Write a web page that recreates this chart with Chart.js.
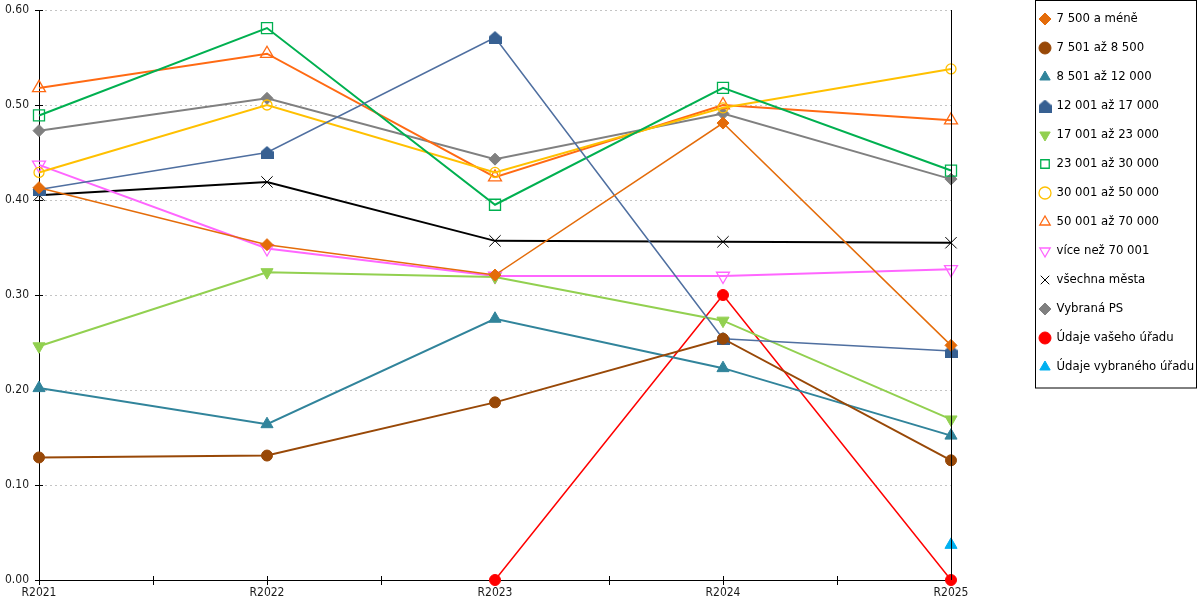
<!DOCTYPE html>
<html lang="cs">
<head>
    <meta charset="UTF-8">
    <title>Vývoj ukazatele podle velikosti obce</title>
    <script src="https://cdn.jsdelivr.net/npm/chart.js"></script>
    <style>
        html, body { margin: 0; padding: 0; background: #fff; }
    </style>
</head>
<body>

<canvas id="chart" width="1200" height="600"></canvas>

<script>
    // categories + y ticks
    const years = ["R2021", "R2022", "R2023", "R2024", "R2025"];
    const yMin = 0, yMax = 0.6, yStep = 0.1;

    // series values
    const v7500     = [0.413, 0.353, 0.321, 0.481, 0.247];
    const v8500     = [0.129, 0.131, 0.187, 0.254, 0.126];
    const v12000    = [0.202, 0.164, 0.275, 0.223, 0.152];
    const v17000    = [0.411, 0.450, 0.571, 0.254, 0.241];
    const v23000    = [0.246, 0.324, 0.319, 0.273, 0.169];
    const v30000    = [0.489, 0.581, 0.395, 0.518, 0.431];
    const v50000    = [0.429, 0.500, 0.429, 0.497, 0.538];
    const v70000    = [0.518, 0.554, 0.424, 0.500, 0.484];
    const vOver     = [0.437, 0.349, 0.320, 0.320, 0.327];
    const vAll      = [0.405, 0.419, 0.357, 0.356, 0.355];
    const vPS       = [0.473, 0.507, 0.443, 0.491, 0.422];
    const vOffice   = [null, null, 0, 0.300, 0];
    const vSelected = [null, null, null, null, 0.037];

    const FONT_SIZE = 12;
    const LEG_FONT = 13;
    Chart.defaults.font.family = "'DejaVu Sans Condensed', 'DejaVu Sans', sans-serif";
    Chart.defaults.font.size = FONT_SIZE;
    Chart.defaults.color = "#1a1a1a";

    // "house" marker for 12 001 až 17 000
    function houseMarker(color, size) {
        const c = document.createElement("canvas");
        c.width = size;
        c.height = size;
        const g = c.getContext("2d");
        g.fillStyle = color;
        g.beginPath();
        g.moveTo(size / 2, 0);
        g.lineTo(size, size * 0.45);
        g.lineTo(size, size);
        g.lineTo(0, size);
        g.lineTo(0, size * 0.45);
        g.closePath();
        g.fill();
        return c;
    }

    function series(label, data, color, opts) {
        return Object.assign({
            label: label,
            data: data,
            borderColor: color,
            backgroundColor: color,
            pointBackgroundColor: color,
            pointBorderColor: color,
            pointBorderWidth: 1,
            borderWidth: 2,
            pointRadius: 5,
            pointHoverRadius: 5,
            tension: 0,
            clip: false
        }, opts || {});
    }

    const hollow = "rgba(255,255,255,0)";
    const LEG_PAD = 16;      // legend row gap
    const LEG_FIRST = 19;    // centre of first legend row

    const decor = {
        id: "decor",
        afterLayout(chart) {
            // pin the legend to the top right corner
            const lg = chart.legend;
            const w = lg.width;
            lg.left = chart.width - 160 - LEG_PAD;
            lg.right = lg.left + w;
            lg.top = LEG_FIRST - LEG_FONT / 2 - LEG_PAD;
            lg.bottom = chart.height;
        },
        beforeDatasetsDraw(chart) {
            const { ctx, chartArea: a, scales: { x, y } } = chart;
            ctx.save();
            ctx.strokeStyle = "#000";
            ctx.lineWidth = 1;
            ctx.beginPath();
            const n = x.ticks.length;
            for (let i = 0; i < n; i++) {
                const px = Math.round(x.getPixelForTick(i)) + 0.5;
                ctx.moveTo(px, a.bottom - 4);
                ctx.lineTo(px, a.bottom + 5);
                if (i < n - 1) {
                    const mid = Math.round((x.getPixelForTick(i) + x.getPixelForTick(i + 1)) / 2) + 0.5;
                    ctx.moveTo(mid, a.bottom - 4);
                    ctx.lineTo(mid, a.bottom + 5);
                }
            }
            y.ticks.forEach((t, i) => {
                const py = Math.round(y.getPixelForTick(i)) + 0.5;
                ctx.moveTo(a.left - 4, py);
                ctx.lineTo(a.left + 4, py);
            });
            ctx.stroke();
            ctx.restore();
        },
        afterDraw(chart) {
            const { ctx, chartArea: a } = chart;
            ctx.save();
            ctx.strokeStyle = "#000";
            ctx.lineWidth = 1;
            // right frame line
            const rx = Math.round(a.right) + 0.5;
            ctx.beginPath();
            ctx.moveTo(rx, a.top);
            ctx.lineTo(rx, a.bottom);
            ctx.stroke();
            // legend frame
            const lg = chart.legend;
            const rows = lg.legendItems.length;
            const left = Math.round(lg.left + LEG_PAD - 5) + 0.5;
            const right = chart.width - 3.5;
            const bottom = LEG_FIRST + (rows - 1) * (LEG_FONT + LEG_PAD) + 20.5;
            ctx.strokeRect(left, 0.5, right - left, bottom);
            ctx.restore();
        }
    };

    new Chart(document.getElementById("chart"), {
        type: "line",
        data: {
            labels: years,
            datasets: [
                series("7 500 a méně", v7500, "#E46C0A", { pointStyle: "rectRot", pointRadius: 6, borderWidth: 1.5 }),
                series("7 501 až 8 500", v8500, "#984807", { pointStyle: "circle", pointRadius: 5.5 }),
                series("8 501 až 12 000", v12000, "#31849B", { pointStyle: "triangle", pointRadius: 7 }),
                series("12 001 až 17 000", v17000, "#376092", { pointStyle: houseMarker("#376092", 13), borderColor: "#4F6FA0", borderWidth: 1.5 }),
                series("17 001 až 23 000", v23000, "#92D050", { pointStyle: "triangle", pointRotation: 180, pointRadius: 7 }),
                series("23 001 až 30 000", v30000, "#00B050", { pointStyle: "rect", pointRadius: 7.8, pointBackgroundColor: hollow, backgroundColor: hollow, pointBorderWidth: 1.3 }),
                series("30 001 až 50 000", v50000, "#FFC000", { pointStyle: "circle", pointRadius: 5, pointBackgroundColor: hollow, backgroundColor: hollow, pointBorderWidth: 1.3 }),
                series("50 001 až 70 000", v70000, "#FF6A13", { pointStyle: "triangle", pointRadius: 7.5, pointBackgroundColor: hollow, backgroundColor: hollow, pointBorderWidth: 1.3 }),
                series("více než 70 001", vOver, "#FF66FF", { pointStyle: "triangle", pointRotation: 180, pointRadius: 7.5, pointBackgroundColor: hollow, backgroundColor: hollow, pointBorderWidth: 1.3 }),
                series("všechna města", vAll, "#000000", { pointStyle: "crossRot", pointRadius: 8, pointBorderWidth: 1 }),
                series("Vybraná PS", vPS, "#808080", { pointStyle: "rectRot", pointRadius: 6 }),
                series("Údaje vašeho úřadu", vOffice, "#FF0000", { pointStyle: "circle", pointRadius: 5.5, borderWidth: 1.5 }),
                series("Údaje vybraného úřadu", vSelected, "#00B0F0", { pointStyle: "triangle", pointRadius: 7 })
            ]
        },
        options: {
            responsive: false,
            animation: false,
            events: [],
            layout: { padding: { left: 0, right: 3, top: 0, bottom: 0 } },
            scales: {
                x: {
                    type: "category",
                    offset: false,
                    grid: { display: false, drawTicks: false },
                    border: { display: true, color: "#000", width: 1 },
                    ticks: { padding: 6, maxRotation: 0, autoSkip: false },
                    afterFit(scale) {
                        scale.height = 20;
                        scale.paddingRight = 249;
                    }
                },
                y: {
                    min: yMin,
                    max: yMax,
                    grid: { color: "#c4c4c4", lineWidth: 1, drawTicks: false },
                    border: { display: true, color: "#000", width: 1, dash: [2, 3] },
                    ticks: {
                        stepSize: yStep,
                        padding: 10,
                        callback: v => Number(v).toFixed(2)
                    },
                    afterFit(scale) {
                        scale.width = 39;
                        scale.paddingTop = 10;
                    }
                }
            },
            plugins: {
                tooltip: { enabled: false },
                legend: {
                    position: "right",
                    align: "start",
                    labels: {
                        usePointStyle: true,
                        boxWidth: 10,
                        boxHeight: 8.5,
                        padding: LEG_PAD,
                        color: "#000",
                        font: { size: LEG_FONT }
                    }
                }
            }
        },
        plugins: [decor]
    });
</script>

</body>
</html>
